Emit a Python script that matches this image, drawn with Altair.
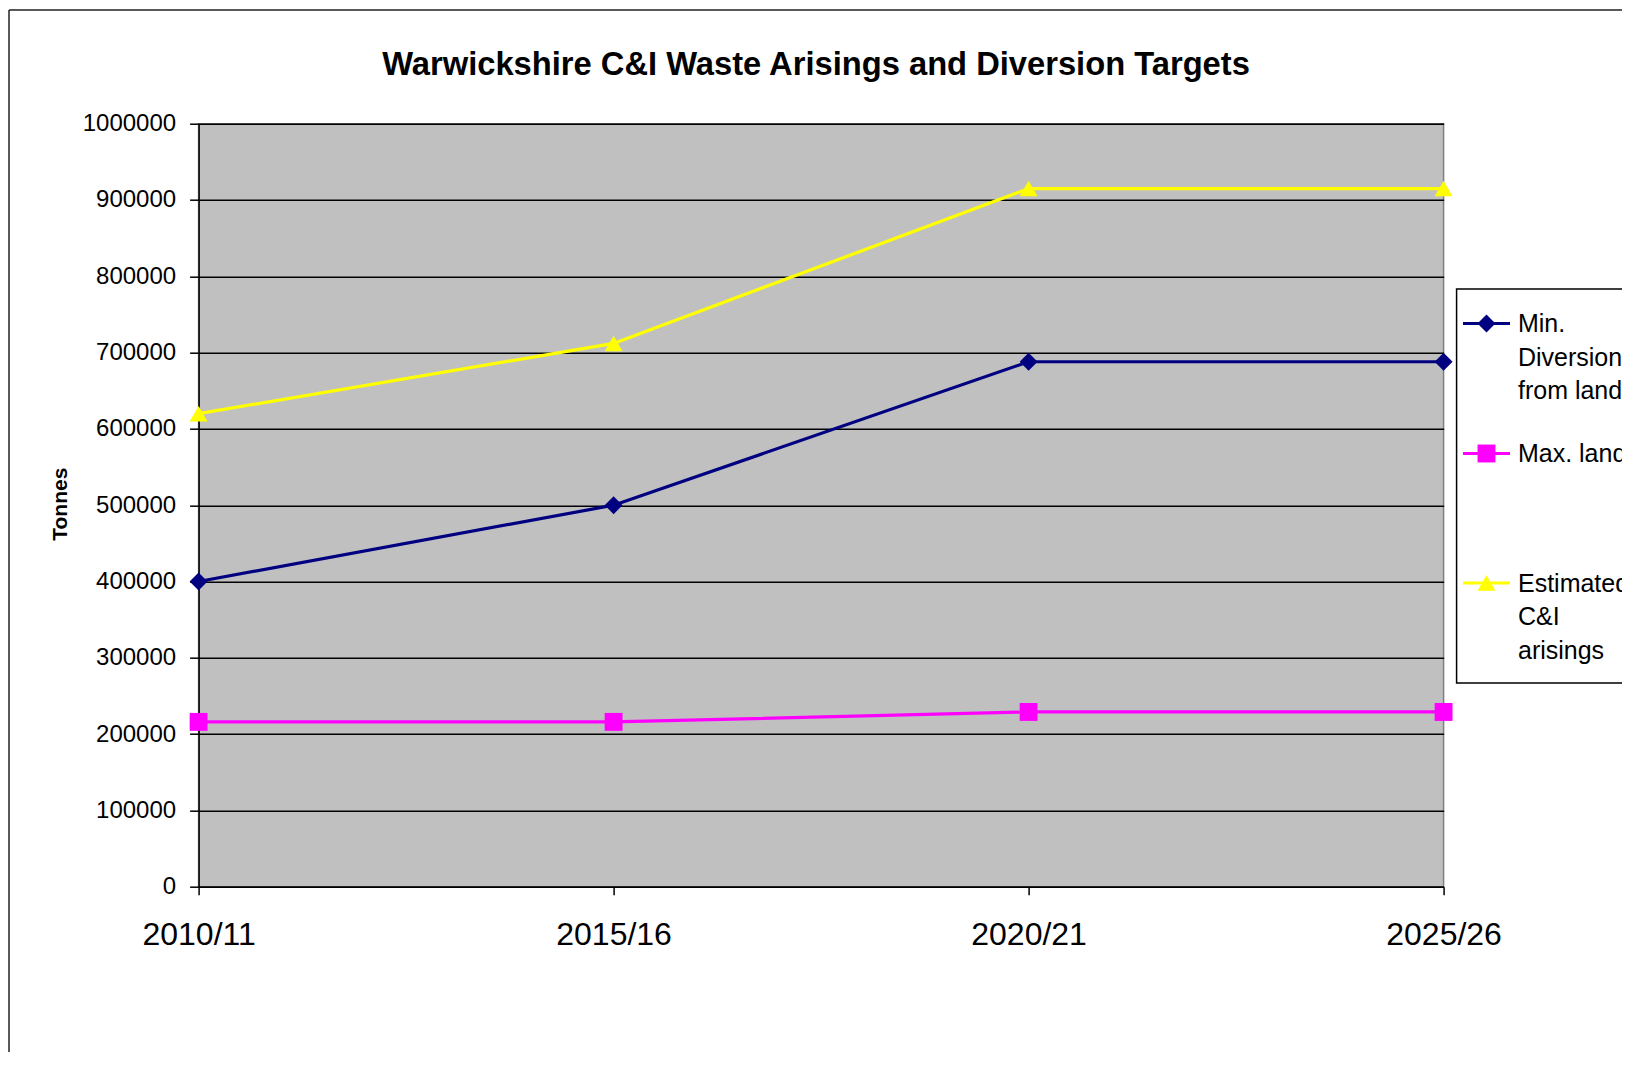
import altair as alt
import pandas as pd

# ---- data ----
periods = ["2010/11", "2015/16", "2020/21", "2025/26"]
series_names = ["Min. Diversion from landfill", "Max. landfill", "Estimated C&I arisings"]
min_diversion = [400000, 500000, 688000, 688000]
max_landfill = [216000, 216000, 229000, 229000]
estimated_arisings = [620000, 712000, 915000, 915000]
y_ticks = [0, 100000, 200000, 300000, 400000, 500000, 600000, 700000, 800000, 900000, 1000000]

chart_title = "Warwickshire C&I Waste Arisings and Diversion Targets"
# legend label lines (wrapped as in the reference)
legend_lines = [["Min.", "Diversion", "from landfill"], ["Max. landfill"], ["Estimated", "C&I", "arisings"]]

series_colors = ["#000080", "#FF00FF", "#FFFF00"]
series_shapes = ["diamond", "square", "triangle-up"]

rows = []
for name, vals in zip(series_names, [min_diversion, max_landfill, estimated_arisings]):
    for p, v in zip(periods, vals):
        rows.append({"series": name, "period": p, "value": v})
df = pd.DataFrame(rows)

FONT = "Liberation Sans"
W, H = 1245, 763
MARKER = 320

color_scale = alt.Scale(domain=series_names, range=series_colors)
shape_scale = alt.Scale(domain=series_names, range=series_shapes)

base = alt.Chart(df).encode(
    x=alt.X(
        "period:N",
        sort=periods,
        scale=alt.Scale(type="point", padding=0),
        axis=alt.Axis(
            title=None, labelAngle=0, labelFont=FONT, labelFontSize=32, labelColor="black",
            tickSize=8, tickColor="black", tickWidth=1.5, domainColor="black", domainWidth=1.5,
            labelPadding=25, grid=False, labelBaseline="top",
        ),
    ),
    y=alt.Y(
        "value:Q",
        scale=alt.Scale(domain=[0, 1000000], nice=False),
        axis=alt.Axis(
            values=y_ticks, format="d", labelFont=FONT, labelFontSize=24, labelColor="black",
            tickSize=9, tickColor="black", tickWidth=1.5, domainColor="black", domainWidth=1.5,
            grid=True, gridColor="black", gridWidth=1.5, labelPadding=14,
            title="Tonnes", titleFont=FONT, titleFontSize=21, titleFontWeight="bold", titleColor="black",
            titleAngle=270, titleX=-138, titleY=380, titleAlign="center", titleBaseline="middle",
        ),
    ),
    color=alt.Color("series:N", scale=color_scale, legend=None),
)

lines = base.mark_line(strokeWidth=3.2)
points = base.mark_point(filled=True, opacity=1, size=MARKER).encode(
    shape=alt.Shape("series:N", scale=shape_scale, legend=None)
)

one = alt.Data(values=[{"k": 1}])

# chart title
title_text = alt.Chart(one).mark_text(
    align="center", baseline="middle", font=FONT, fontSize=32.7, fontWeight="bold", color="black"
).encode(x=alt.value(617.4), y=alt.value(-58.5), text=alt.value(chart_title))

# outer chart frame
frame_left = alt.Chart(one).mark_rule(color="#222", strokeWidth=1.5).encode(
    x=alt.value(-189.6), y=alt.value(-113.7), y2=alt.value(1200)
)
frame_top = alt.Chart(one).mark_rule(color="#222", strokeWidth=1.5).encode(
    x=alt.value(-189.6), x2=alt.value(1600), y=alt.value(-113.7)
)

# legend
legend_box = alt.Chart(one).mark_rect(fill="white", stroke="black", strokeWidth=1.5).encode(
    x=alt.value(1258), x2=alt.value(1600), y=alt.value(165.3), y2=alt.value(559.3)
)
legend_layers = [legend_box]
entry_y = [199.8, 329.8, 459.3]
for i, name in enumerate(series_names):
    ey = entry_y[i]
    legend_layers.append(
        alt.Chart(one).mark_rule(color=series_colors[i], strokeWidth=3.2).encode(
            x=alt.value(1264.4), x2=alt.value(1311.4), y=alt.value(ey)
        )
    )
    legend_layers.append(
        alt.Chart(one).mark_point(filled=True, opacity=1, size=MARKER, color=series_colors[i],
                                  shape=series_shapes[i]).encode(
            x=alt.value(1287.9), y=alt.value(ey)
        )
    )
    for j, txt in enumerate(legend_lines[i]):
        legend_layers.append(
            alt.Chart(one).mark_text(align="left", baseline="middle", font=FONT, fontSize=25,
                                     color="black").encode(
                x=alt.value(1319.4), y=alt.value(ey + 1 + j * 33.5), text=alt.value(txt)
            )
        )

chart = alt.layer(
    lines, points, title_text, frame_left, frame_top, *legend_layers
).properties(
    width=W,
    height=H,
    autosize=alt.AutoSizeParams(type="none"),
    padding={"left": 190.6, "top": 115.7, "right": 178, "bottom": 165},
    background="white",
).configure_view(
    fill="#C0C0C0", stroke="#808080", strokeWidth=1.5
)

chart.save("out.html", embed_options={"renderer": "svg", "actions": False})
